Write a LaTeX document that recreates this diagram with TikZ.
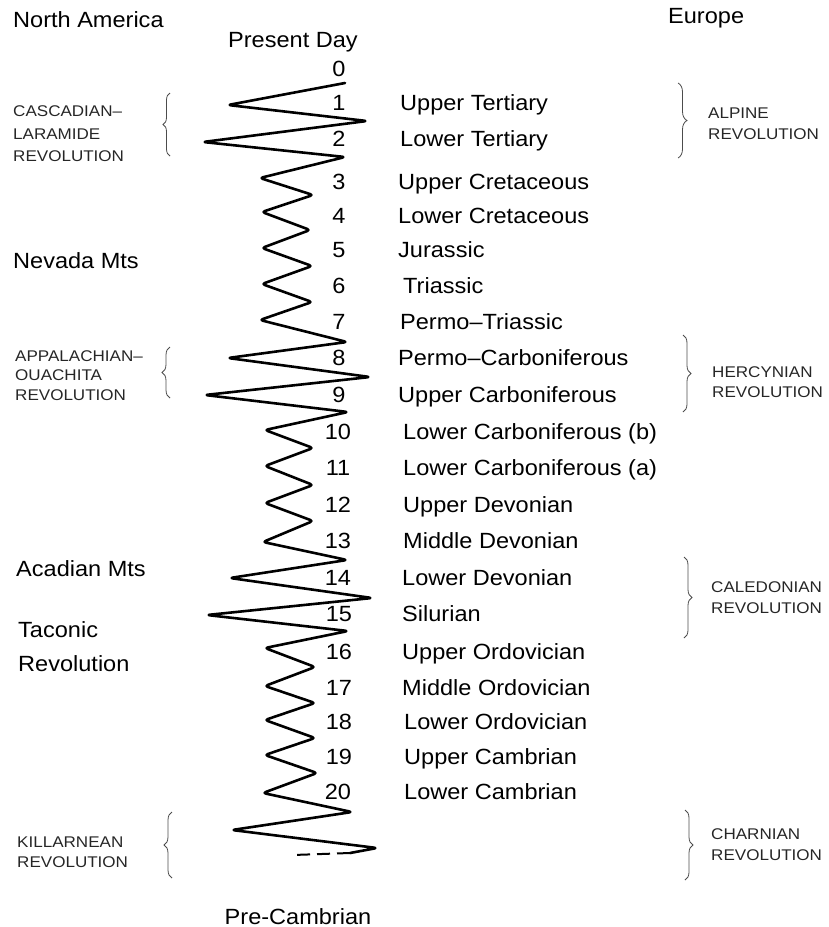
\documentclass[tikz,border=0pt]{standalone}
\usepackage{fontspec}
\setmainfont{Liberation Sans}[FakeStretch=1.07]
\newfontfamily\capf{Liberation Sans}[FakeStretch=1.1]
\usetikzlibrary{decorations.pathreplacing}
\begin{document}
\begin{tikzpicture}[x=1pt,y=-1pt,
  lab/.style={anchor=base west,inner sep=0pt,font=\fontsize{22}{26}\selectfont},
  num/.style={anchor=base,inner sep=0pt,font=\fontsize{22}{26}\selectfont},
  capt/.style={anchor=base west,inner sep=0pt,font=\capf\fontsize{15.5}{18}\selectfont,text=black!85},
  zig/.style={line width=2.6pt,line join=round,line cap=round,rounded corners=3pt},
  brc/.style={decorate,decoration={brace,amplitude=#1},draw=black!70,line width=0.8pt},
]
\useasboundingbox (0,0) rectangle (828,927);
\clip (0,0) rectangle (828,927);

% headers
\node[lab] (hna) at (13,27) {North America};
\node[lab] (hpd) at (228,47) {Present Day};
\node[lab] (heu) at (668,23) {Europe};

% numbers
\node[num] (n0) at (339,76) {0};
\node[num] (n1) at (339,110) {1};
\node[num] (n2) at (339,146) {2};
\node[num] (n3) at (339,189) {3};
\node[num] (n4) at (339,223) {4};
\node[num] (n5) at (339,257) {5};
\node[num] (n6) at (339,293) {6};
\node[num] (n7) at (339,329) {7};
\node[num] (n8) at (339,365) {8};
\node[num] (n9) at (339,402) {9};
\node[num] (n10) at (338,439) {10};
\node[num] (n11) at (338,475) {11};
\node[num] (n12) at (338,512) {12};
\node[num] (n13) at (338,548) {13};
\node[num] (n14) at (338,585) {14};
\node[num] (n15) at (339,621) {15};
\node[num] (n16) at (339,659) {16};
\node[num] (n17) at (339,695) {17};
\node[num] (n18) at (339,729) {18};
\node[num] (n19) at (339,764) {19};
\node[num] (n20) at (338,799) {20};

% period labels
\node[lab] (l1) at (400,110) {Upper Tertiary};
\node[lab] (l2) at (400,146) {Lower Tertiary};
\node[lab] (l3) at (398,189) {Upper Cretaceous};
\node[lab] (l4) at (398,223) {Lower Cretaceous};
\node[lab] (l5) at (398,257) {Jurassic};
\node[lab] (l6) at (403,293) {Triassic};
\node[lab] (l7) at (400,329) {Permo–Triassic};
\node[lab] (l8) at (398,365) {Permo–Carboniferous};
\node[lab] (l9) at (398,402) {Upper Carboniferous};
\node[lab] (l10) at (403,439) {Lower Carboniferous (b)};
\node[lab] (l11) at (403,475) {Lower Carboniferous (a)};
\node[lab] (l12) at (403,512) {Upper Devonian};
\node[lab] (l13) at (403,548) {Middle Devonian};
\node[lab] (l14) at (402,585) {Lower Devonian};
\node[lab] (l15) at (402,621) {Silurian};
\node[lab] (l16) at (402,659) {Upper Ordovician};
\node[lab] (l17) at (402,695) {Middle Ordovician};
\node[lab] (l18) at (404,729) {Lower Ordovician};
\node[lab] (l19) at (404,764) {Upper Cambrian};
\node[lab] (l20) at (404,799) {Lower Cambrian};

\node[lab,anchor=base] (pc) at (298,924) {Pre-Cambrian};

% North America texts
\node[lab] (nev) at (13,268) {Nevada Mts};
\node[lab] (aca) at (16,576) {Acadian Mts};
\node[lab] (tac1) at (18,637) {Taconic};
\node[lab] (tac2) at (18,671) {Revolution};

\node[capt] (cas1) at (13,116) {CASCADIAN–};
\node[capt] (cas2) at (13,139) {LARAMIDE};
\node[capt] (cas3) at (13,161) {REVOLUTION};
\node[capt] (app1) at (15,361) {APPALACHIAN–};
\node[capt] (app2) at (15,380) {OUACHITA};
\node[capt] (app3) at (15,400) {REVOLUTION};
\node[capt] (kil1) at (17,847) {KILLARNEAN};
\node[capt] (kil2) at (17,867) {REVOLUTION};

% Europe texts
\node[capt] (alp1) at (708,118) {ALPINE};
\node[capt] (alp2) at (708,139) {REVOLUTION};
\node[capt] (her1) at (712,377) {HERCYNIAN};
\node[capt] (her2) at (712,397) {REVOLUTION};
\node[capt] (cal1) at (711,592) {CALEDONIAN};
\node[capt] (cal2) at (711,613) {REVOLUTION};
\node[capt] (cha1) at (711,839) {CHARNIAN};
\node[capt] (cha2) at (711,860) {REVOLUTION};

% braces
\coordinate (bcasT) at (170,93);  \coordinate (bcasB) at (170,156);
\coordinate (bappT) at (170,347); \coordinate (bappB) at (170,398);
\coordinate (bkilT) at (172,812); \coordinate (bkilB) at (172,878);
\draw[brc=7pt] (bcasB) -- (bcasT);
\draw[brc=8pt] (bappB) -- (bappT);
\draw[brc=8pt] (bkilB) -- (bkilT);
\coordinate (balpT) at (678,83);  \coordinate (balpB) at (678,158);
\coordinate (bherT) at (683,335); \coordinate (bherB) at (683,412);
\coordinate (bcalT) at (684,557); \coordinate (bcalB) at (684,638);
\coordinate (bchaT) at (685,810); \coordinate (bchaB) at (685,880);
\draw[brc=9pt] (balpT) -- (balpB);
\draw[brc=8pt] (bherT) -- (bherB);
\draw[brc=8pt] (bcalT) -- (bcalB);
\draw[brc=8pt] (bchaT) -- (bchaB);

% zigzag
\draw[zig] (345,83) -- (228,105) -- (367,121) -- (203,142) -- (345,157)
  -- (260,178) -- (313,195) -- (262,212) -- (310,230) -- (262,248)
  -- (312,266) -- (262,284) -- (312,302) -- (260,320) -- (347,342)
  -- (228,358) -- (370,377) -- (205,395) -- (348,412) -- (265,430)
  -- (313,448) -- (265,466) -- (313,485) -- (265,503) -- (313,521)
  -- (263,542) -- (347,560) -- (230,578) -- (372,598) -- (207,615)
  -- (348,631) -- (265,648) -- (315,667) -- (265,686) -- (315,703)
  -- (265,720) -- (315,738) -- (265,755) -- (317,773) -- (263,793)
  -- (352,812) -- (232,830) -- (377,848) -- (350,853);
\coordinate (zend) at (350,853);
\coordinate (zdash) at (293,855);
\draw[line width=2pt,dash pattern=on 13pt off 7pt] (zend) -- (zdash);
\end{tikzpicture}
\end{document}
